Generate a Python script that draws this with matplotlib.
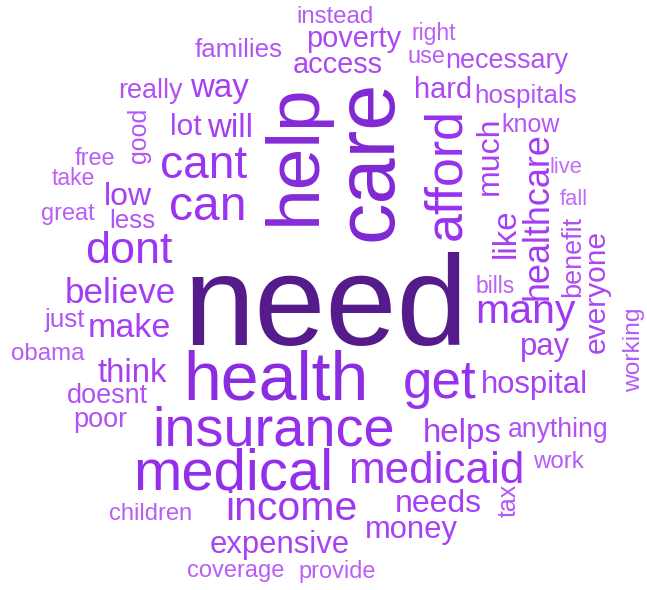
import matplotlib
matplotlib.use('Agg')
import matplotlib.pyplot as plt
from matplotlib.colors import LinearSegmentedColormap, Normalize

# words and their relative size in the cloud (font em in pixels)
words = ['need', 'care', 'help', 'health', 'medical', 'insurance', 'get', 'afford',
         'can', 'cant', 'dont', 'medicaid', 'many', 'income', 'healthcare', 'believe',
         'make', 'like', 'think', 'helps', 'way', 'will', 'low', 'much', 'needs',
         'hospital', 'pay', 'money', 'expensive', 'lot', 'poverty', 'access', 'hard',
         'everyone', 'necessary', 'really', 'doesnt', 'poor', 'anything', 'less',
         'families', 'hospitals', 'just', 'benefit', 'good', 'know', 'working', 'tax',
         'instead', 'obama', 'work', 'children', 'coverage', 'provide', 'right', 'use',
         'great', 'free', 'take', 'bills', 'live', 'fall']
sizes = [128, 83, 75, 68, 58, 56, 53, 52,
         48, 46, 45, 44, 41, 41, 36, 35,
         34, 33, 33, 33, 33, 33, 32, 32, 32,
         31, 31, 31, 31, 30, 29, 29, 29,
         30, 27, 27, 27, 27, 26.5, 26,
         26, 26, 26, 27, 25, 25, 24.5, 25,
         24, 24, 24, 23.7, 23.6, 23.5, 23, 23.5,
         23.5, 23.5, 23, 23, 22, 22]

# layout: x, y of anchor (baseline centre) in pixels, rotation
xs = [326, 392, 315, 276, 233, 274, 440, 460,
      208, 204, 129, 436, 525, 291, 547, 120,
      129, 515, 132, 462, 219, 230, 128, 498, 438,
      534, 545, 411, 280, 186, 354, 338, 443,
      605, 507, 150, 107, 100, 558, 132,
      239, 526, 65, 580, 146, 531, 640, 516,
      335, 48, 558, 151, 236, 337, 434, 426,
      68, 95, 73, 495, 566, 574]
ys = [345, 160, 154, 399, 489, 445, 398, 174,
      220, 178, 263, 483, 323, 520, 216, 303,
      337, 233, 382, 442, 97, 137, 205, 156, 512,
      393, 355, 538, 553, 135, 47, 73, 98,
      291, 68, 98, 403, 427, 437, 228,
      57, 103, 327, 256, 135, 132, 350, 500,
      23, 360, 468, 520, 577, 578, 40, 63,
      220, 165, 185, 293, 173, 205]
vertical = ['care', 'help', 'afford', 'healthcare', 'like', 'much', 'everyone',
            'benefit', 'good', 'working', 'tax']

W, H = 647, 590
fig = plt.figure(figsize=(W / 100, H / 100), dpi=100)
ax = fig.add_axes([0, 0, 1, 1])
ax.set_xlim(0, W)
ax.set_ylim(H, 0)
ax.axis('off')

cmap = LinearSegmentedColormap.from_list(
    'cloud', ['#c16cf6', '#a63ff4', '#9530ee', '#7d27cf', '#561b8b'])
norm = Normalize(vmin=22, vmax=128)

for w, s, x, y in zip(words, sizes, xs, ys):
    rot = 90 if w in vertical else 0
    ax.text(x, y, w, fontsize=s * 0.72, family='Liberation Sans',
            color=cmap(norm(s) ** 0.6), rotation=rot, rotation_mode='anchor',
            ha='center', va='baseline')

fig.savefig('out.png', dpi=100, facecolor='white')
